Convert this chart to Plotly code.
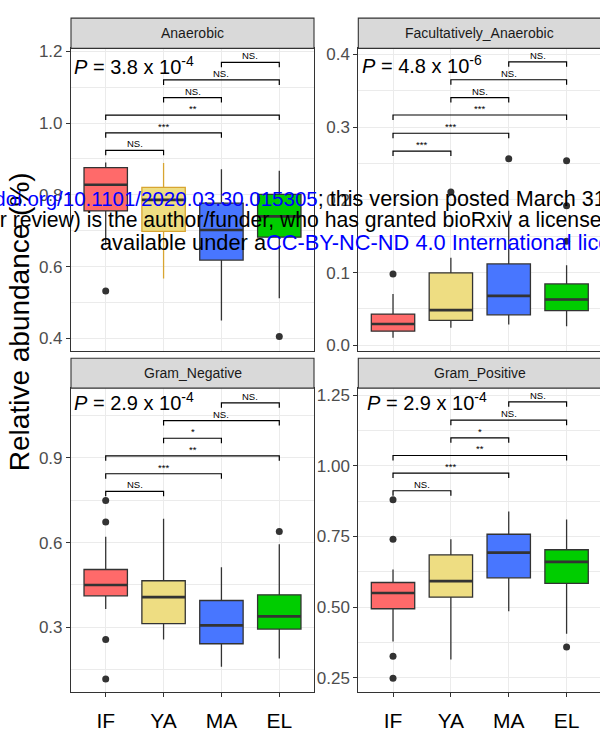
import plotly.graph_objects as go

W, H = 602, 732
FONT = "Liberation Sans, Arial, sans-serif"

categories = ["IF", "YA", "MA", "EL"]
cat_pos = [1, 2, 3, 4]
fill_colors = ["#FF6A6A", "#EEDD82", "#4876FF", "#00CD00"]

panel_titles = ["Anaerobic", "Facultatively_Anaerobic", "Gram_Negative", "Gram_Positive"]
p_texts = ["3.8 x 10<sup>-4</sup>", "4.8 x 10<sup>-6</sup>",
           "2.9 x 10<sup>-4</sup>", "2.9 x 10<sup>-4</sup>"]

# ---- Anaerobic ----
an_q1 = [0.755, 0.698, 0.618, 0.682]
an_med = [0.828, 0.786, 0.702, 0.740]
an_q3 = [0.876, 0.821, 0.777, 0.801]
an_lo = [0.660, 0.567, 0.450, 0.512]
an_hi = [0.890, 0.889, 0.871, 0.867]
an_out_cat = ["IF", "EL"]
an_out_val = [0.532, 0.405]
an_sig = ["NS.", "***", "**", "NS.", "NS.", "NS."]
an_sig_y = [0.9237, 0.9728, 1.0219, 1.0710, 1.1201, 1.1692]

# ---- Facultatively_Anaerobic ----
fa_q1 = [0.0195, 0.0344, 0.042, 0.0476]
fa_med = [0.0294, 0.0484, 0.068, 0.063]
fa_q3 = [0.043, 0.0997, 0.112, 0.0844]
fa_lo = [0.0103, 0.024, 0.0286, 0.0263]
fa_hi = [0.0707, 0.1205, 0.185, 0.110]
fa_out_cat = ["IF", "YA", "MA", "EL", "EL", "EL"]
fa_out_val = [0.098, 0.211, 0.2566, 0.2539, 0.192, 0.1433]
fa_sig = ["***", "***", "***", "NS.", "NS.", "NS."]
fa_sig_y = [0.2671, 0.2917, 0.3168, 0.3408, 0.3653, 0.3899]

# ---- Gram_Negative ----
gn_q1 = [0.4116, 0.313, 0.242, 0.294]
gn_med = [0.450, 0.407, 0.307, 0.339]
gn_q3 = [0.5047, 0.465, 0.395, 0.415]
gn_lo = [0.365, 0.257, 0.1605, 0.1894]
gn_hi = [0.621, 0.684, 0.5128, 0.594]
gn_out_cat = ["IF", "IF", "IF", "IF", "EL"]
gn_out_val = [0.749, 0.673, 0.257, 0.1176, 0.639]
gn_sig = ["NS.", "***", "**", "*", "NS.", "NS."]
gn_sig_y = [0.7813, 0.8436, 0.9069, 0.9692, 1.0315, 1.0948]

# ---- Gram_Positive ----
gp_q1 = [0.494, 0.535, 0.6035, 0.5837]
gp_med = [0.550, 0.5917, 0.693, 0.660]
gp_q3 = [0.587, 0.685, 0.758, 0.703]
gp_lo = [0.378, 0.314, 0.485, 0.405]
gp_hi = [0.6335, 0.7406, 0.839, 0.810]
gp_out_cat = ["IF", "IF", "IF", "IF", "EL"]
gp_out_val = [0.880, 0.7406, 0.3257, 0.248, 0.358]
gp_sig = ["NS.", "***", "**", "*", "NS.", "NS."]
gp_sig_y = [0.9122, 0.9747, 1.0372, 1.0997, 1.1622, 1.2271]

comparisons = [(1, 2), (1, 3), (1, 4), (2, 3), (2, 4), (3, 4)]

# y-axis ticks
an_ticks = [0.4, 0.6, 0.8, 1.0, 1.2]
an_ticktext = ["0.4", "0.6", "0.8", "1.0", "1.2"]
an_minor = [0.5, 0.7, 0.9, 1.1]
fa_ticks = [0.0, 0.1, 0.2, 0.3, 0.4]
fa_ticktext = ["0.0", "0.1", "0.2", "0.3", "0.4"]
fa_minor = [0.05, 0.15, 0.25, 0.35]
gn_ticks = [0.3, 0.6, 0.9]
gn_ticktext = ["0.3", "0.6", "0.9"]
gn_minor = [0.15, 0.45, 0.75, 1.05]
gp_ticks = [0.25, 0.5, 0.75, 1.0, 1.25]
gp_ticktext = ["0.25", "0.50", "0.75", "1.00", "1.25"]
gp_minor = [0.375, 0.625, 0.875, 1.125]

# ---- layout geometry (pixels) ----
panels = [
    dict(stats=(an_q1, an_med, an_q3, an_lo, an_hi), out=(an_out_cat, an_out_val),
         sig=an_sig, sig_y=an_sig_y, ticks=(an_ticks, an_ticktext, an_minor),
         yrange=[0.3635, 1.2082], xpx=(71, 314), ypx=(43, 350.7), p_x=72, p_y=60,
         strip=(12.3, 43), bottom=False),
    dict(stats=(fa_q1, fa_med, fa_q3, fa_lo, fa_hi), out=(fa_out_cat, fa_out_val),
         sig=fa_sig, sig_y=fa_sig_y, ticks=(fa_ticks, fa_ticktext, fa_minor),
         yrange=[-0.0084, 0.4085], xpx=(358.3, 601.3), ypx=(43, 350.7), p_x=359.7, p_y=59,
         strip=(12.3, 43), bottom=False),
    dict(stats=(gn_q1, gn_med, gn_q3, gn_lo, gn_hi), out=(gn_out_cat, gn_out_val),
         sig=gn_sig, sig_y=gn_sig_y, ticks=(gn_ticks, gn_ticktext, gn_minor),
         yrange=[0.0708, 1.1465], xpx=(71, 314), ypx=(388, 696.6), p_x=72, p_y=402,
         strip=(357.7, 388), bottom=True),
    dict(stats=(gp_q1, gp_med, gp_q3, gp_lo, gp_hi), out=(gp_out_cat, gp_out_val),
         sig=gp_sig, sig_y=gp_sig_y, ticks=(gp_ticks, gp_ticktext, gp_minor),
         yrange=[0.1984, 1.2758], xpx=(358.3, 601.3), ypx=(388, 696.6), p_x=364.7, p_y=402,
         strip=(357.7, 388), bottom=True),
]

CAT_PX = 243 / 4.2  # pixels per category unit
BOXW = 0.75

fig = go.Figure()
layout = dict(
    width=W, height=H, autosize=False,
    margin=dict(l=0, r=0, t=0, b=0, pad=0),
    paper_bgcolor="white", plot_bgcolor="white",
    showlegend=False, boxmode="overlay",
    font=dict(family=FONT),
)
shapes = []
annotations = []

for i, p in enumerate(panels):
    n = "" if i == 0 else str(i + 1)
    xref, yref = "x" + n, "y" + n
    q1, med, q3, lo, hi = p["stats"]
    x0px, x1px = p["xpx"]
    y0px, y1px = p["ypx"]
    xmax = 0.4 + (x1px - x0px) / CAT_PX
    px_per_unit = (y1px - y0px) / (p["yrange"][1] - p["yrange"][0])

    for k in range(4):
        line_col = "#333333"
        if i == 0 and k == 1:
            line_col = "#D8A531"
        fig.add_trace(go.Box(
            x=[cat_pos[k]], q1=[q1[k]], median=[med[k]], q3=[q3[k]],
            lowerfence=[lo[k]], upperfence=[hi[k]],
            width=BOXW, whiskerwidth=0, boxpoints=False,
            fillcolor=fill_colors[k], line=dict(color=line_col, width=1.3),
            xaxis=xref, yaxis=yref, hoverinfo="skip"))
    # thick medians
    mx, my = [], []
    for k in range(4):
        mx += [cat_pos[k] - BOXW / 2, cat_pos[k] + BOXW / 2, None]
        my += [med[k], med[k], None]
    fig.add_trace(go.Scatter(x=mx, y=my, mode="lines",
                             line=dict(color="#333333", width=2.6),
                             xaxis=xref, yaxis=yref, hoverinfo="skip"))
    # outliers
    oc, ov = p["out"]
    fig.add_trace(go.Scatter(x=[cat_pos[categories.index(c)] for c in oc], y=ov,
                             mode="markers",
                             marker=dict(color="#333333", size=7, line=dict(width=0)),
                             xaxis=xref, yaxis=yref, hoverinfo="skip"))
    # significance brackets
    tip = 5.0 / px_per_unit
    for (a, b), lab, yy in zip(comparisons, p["sig"], p["sig_y"]):
        fig.add_trace(go.Scatter(x=[a, a, b, b], y=[yy - tip, yy, yy, yy - tip],
                                 mode="lines", line=dict(color="black", width=1.2),
                                 xaxis=xref, yaxis=yref, hoverinfo="skip"))
        annotations.append(dict(x=(a + b) / 2, y=yy, xref=xref, yref=yref,
                                text=lab, showarrow=False, xanchor="center",
                                yanchor="bottom", yshift=-1,
                                font=dict(size=9.5, color="black", family=FONT)))

    tv, tt, mv = p["ticks"]
    layout["xaxis" + n] = dict(
        domain=[x0px / W, x1px / W], range=[0.4, xmax], anchor=yref,
        tickmode="array", tickvals=cat_pos, ticktext=categories,
        showticklabels=p["bottom"], ticks="outside" if p["bottom"] else "",
        ticklen=4, tickwidth=1, tickcolor="#333333",
        tickfont=dict(size=21, color="black", family=FONT),
        ticklabelstandoff=6,
        showline=True, mirror=True, linecolor="#333333", linewidth=1.1,
        showgrid=True, gridcolor="#EBEBEB", gridwidth=1, zeroline=False)
    layout["yaxis" + n] = dict(
        domain=[1 - y1px / H, 1 - y0px / H], range=p["yrange"], anchor=xref,
        tickmode="array", tickvals=tv, ticktext=tt,
        ticks="outside", ticklen=4, tickwidth=1, tickcolor="#333333",
        tickfont=dict(size=17, color="#4D4D4D", family=FONT),
        showline=True, mirror=True, linecolor="#333333", linewidth=1.1,
        showgrid=True, gridcolor="#EBEBEB", gridwidth=1, zeroline=False,
        minor=dict(tickmode="array", tickvals=mv, showgrid=True,
                   gridcolor="#EBEBEB", gridwidth=0.6))
    # strip
    s0, s1 = p["strip"]
    shapes.append(dict(type="rect", xref="paper", yref="paper",
                       x0=x0px / W, x1=x1px / W,
                       y0=1 - s1 / H, y1=1 - s0 / H,
                       fillcolor="#D9D9D9", line=dict(color="#333333", width=1.1),
                       layer="above"))
    annotations.append(dict(x=(x0px + x1px) / 2 / W, y=1 - (s0 + s1) / 2 / H,
                            xref="paper", yref="paper", text=panel_titles[i],
                            showarrow=False, xanchor="center", yanchor="middle",
                            font=dict(size=14, color="#1A1A1A", family=FONT)))
    # P value
    annotations.append(dict(x=p["p_x"] / W, y=1 - p["p_y"] / H, xref="paper", yref="paper",
                            text="<i>P</i> = " + p_texts[i], showarrow=False,
                            xanchor="left", yanchor="middle",
                            font=dict(size=20, color="black", family=FONT)))

# y-axis title
annotations.append(dict(x=19 / W, y=1 - 321 / H, xref="paper", yref="paper",
                        text="Relative abundance (%)", textangle=-90, showarrow=False,
                        xanchor="center", yanchor="middle",
                        font=dict(size=28, color="black", family=FONT)))

# bioRxiv watermark
wm_lines = [
    ("bioRxiv preprint doi: <span style='color:#0000FF;font-size:20.5px'>"
     "https://doi.org/10.1101/2020.03.30.015305</span>"
     "; this version posted March 31, 2020. The copyright holder for this preprint",
     -265.6, 195, 21.6),
    ("(which was not certified by peer review) is the author/funder, who has granted bioRxiv a license "
     "to display the preprint in perpetuity. It is made", -292.0, 217, 21.2),
    ("available under a<span style='color:#0000FF'>CC-BY-NC-ND 4.0 International license</span>.",
     97.5, 240, 21.8),
]
for txt, xs, yc, fs in wm_lines:
    annotations.append(dict(x=xs / W, y=1 - yc / H, xref="paper", yref="paper",
                            text=txt, showarrow=False, xanchor="left", yanchor="middle",
                            font=dict(size=fs, color="black", family=FONT)))

layout["shapes"] = shapes
layout["annotations"] = annotations
fig.update_layout(**layout)

post = ("document.documentElement.style.margin='0';document.body.style.margin='0';"
        "document.body.style.overflow='hidden';"
        "var gd=document.getElementById('{plot_id}');gd.style.position='absolute';"
        "gd.style.left='0px';gd.style.top='0px';")
fig.write_html("out.html", post_script=post, config={"displayModeBar": False})
